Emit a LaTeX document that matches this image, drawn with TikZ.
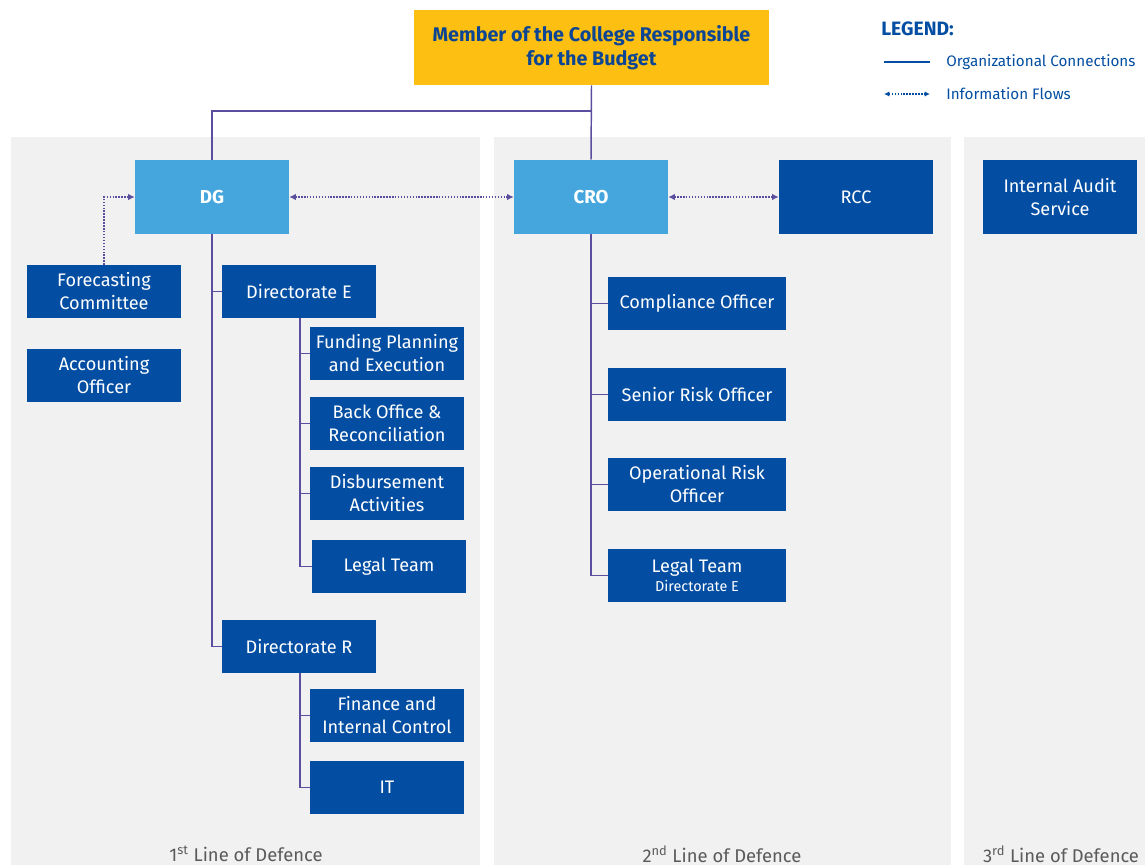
\documentclass[tikz,border=0pt]{standalone}
\usepackage{fontspec}
\setmainfont{Fira Sans}
\usetikzlibrary{arrows.meta}
\definecolor{ecyellow}{HTML}{FCBF12}
\definecolor{eclight}{HTML}{45A6DD}
\definecolor{ecdark}{HTML}{034EA2}
\definecolor{ecline}{HTML}{5A4E9E}
\definecolor{ecpanel}{HTML}{F1F1F1}
\definecolor{ectext}{HTML}{0B4594}
\definecolor{ecgray}{HTML}{5A5A5A}
\tikzset{
  basebox/.style={inner sep=0pt, align=center, text=white, font=\fontsize{13.6}{17.25}\selectfont},
  darkbox/.style={basebox, fill=ecdark, minimum width=115.5pt, minimum height=39.75pt},
  widebox/.style={darkbox, minimum width=133.5pt},
  headbox/.style={basebox, fill=eclight, minimum width=115.5pt, minimum height=55.5pt, font=\fontsize{14}{17}\selectfont\bfseries},
  tallbox/.style={darkbox, minimum height=55.5pt},
  org/.style={draw=ecline, line width=1.1pt},
  info/.style={draw=ecline, line width=1.1pt, dash pattern=on 1.1pt off 1.1pt, arrows={-Latex[length=5pt,width=5pt]}},
  infob/.style={info, arrows={Latex[length=5pt,width=5pt]-Latex[length=5pt,width=5pt]}},
  panellabel/.style={text=ecgray, font=\fontsize{13.8}{15}\selectfont, inner sep=0pt},
  legendtext/.style={text=ecdark, font=\fontsize{11.4}{13}\selectfont, inner sep=0pt, anchor=west}
}
\begin{document}
\begin{tikzpicture}[x=0.75pt,y=-0.75pt]
\useasboundingbox (0,0) rectangle (1145,865);
\fill[white] (0,0) rectangle (1145,865);
% panels
\fill[ecpanel] (11,137) rectangle (480,865);
\fill[ecpanel] (494,137) rectangle (951,865);
\fill[ecpanel] (964,137) rectangle (1145,865);
% top
\node[basebox, fill=ecyellow, minimum width=266.25pt, minimum height=56.25pt, text=ectext, font=\fontsize{14.8}{18}\selectfont\bfseries] (top) at (591.5,47.5) {Member of the College Responsible\\for the Budget};
% legend
\node[text=ecdark, font=\fontsize{14.5}{16}\selectfont\bfseries, inner sep=0pt, anchor=west] (leg) at (881,29) {LEGEND:};
\coordinate (l1a) at (884,62); \coordinate (l1b) at (930,62);
\coordinate (l2a) at (884,94); \coordinate (l2b) at (930,94);
\draw[org, draw=ecdark] (l1a) -- (l1b);
\draw[infob, draw=ecdark, line width=0.9pt, arrows={Latex[length=4pt,width=4pt]-Latex[length=4pt,width=4pt]}] (l2a) -- (l2b);
\node[legendtext] (lt1) at (946,62) {Organizational Connections};
\node[legendtext] (lt2) at (946,94) {Information Flows};
% head boxes
\node[headbox] (dg) at (212,197) {DG};
\node[headbox] (cro) at (591,197) {CRO};
\node[tallbox] (rcc) at (856,197) {RCC};
\node[tallbox] (ias) at (1060,197) {Internal Audit\\Service};
% first line
\node[darkbox] (fc) at (104,291.5) {Forecasting\\Committee};
\node[darkbox] (ao) at (104,375.5) {Accounting\\Officer};
\node[darkbox] (de) at (299,291.5) {Directorate E};
\node[darkbox] (fp) at (387,353.5) {Funding Planning\\and Execution};
\node[darkbox] (bo) at (387,423.5) {Back Office \&\\Reconciliation};
\node[darkbox] (da) at (387,493.5) {Disbursement\\Activities};
\node[darkbox] (lt) at (389,566.5) {Legal Team};
\node[darkbox] (dr) at (299,646.5) {Directorate R};
\node[darkbox] (fi) at (387,715.5) {Finance and\\Internal Control};
\node[darkbox] (it) at (387,787.5) {IT};
% second line
\node[widebox] (co) at (697,303.5) {Compliance Officer};
\node[widebox] (sr) at (697,394.5) {Senior Risk Officer};
\node[widebox] (or) at (697,484.5) {Operational Risk\\Officer};
\node[widebox] (lt2b) at (697,575.5) {Legal Team\\[-3pt]{\fontsize{10.8}{12}\selectfont Directorate E}};
% connectors
\coordinate (j) at (591,111);
\draw[org] (top.south) -- (cro.north);
\draw[org] (j) -| (dg.north);
\draw[org] (dg.south) |- (dr.west);
\draw[org] (dg.south |- de.west) -- (de.west);
\coordinate (ex) at (300,318);
\draw[org] (ex) |- (lt.west);
\draw[org] (ex |- fp.west) -- (fp.west);
\draw[org] (ex |- bo.west) -- (bo.west);
\draw[org] (ex |- da.west) -- (da.west);
\coordinate (rx) at (300,673);
\draw[org] (rx) |- (it.west);
\draw[org] (rx |- fi.west) -- (fi.west);
\draw[org] (cro.south) |- (lt2b.west);
\draw[org] (cro.south |- co.west) -- (co.west);
\draw[org] (cro.south |- sr.west) -- (sr.west);
\draw[org] (cro.south |- or.west) -- (or.west);
\draw[info] (fc.north) |- (dg.west);
\draw[infob] (dg.east) -- (cro.west);
\draw[infob] (cro.east) -- (rcc.west);
% panel labels
\node[panellabel] (p1) at (246,854) {1\textsuperscript{st} Line of Defence};
\node[panellabel] (p2) at (722,854) {2\textsuperscript{nd} Line of Defence};
\node[panellabel] (p3) at (1061,854) {3\textsuperscript{rd} Line of Defence};
\end{tikzpicture}
\end{document}
